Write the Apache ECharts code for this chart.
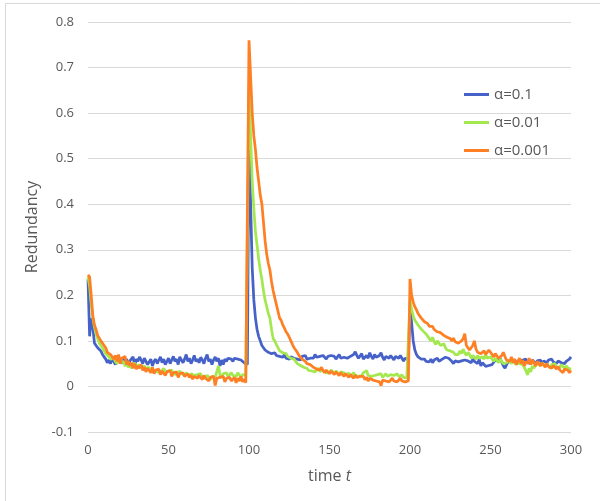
<!DOCTYPE html>
<html>
<head>
    <meta charset="utf-8">
    <title>Redundancy</title>
    <script src="https://cdn.jsdelivr.net/npm/echarts@6/dist/echarts.min.js"></script>
    <style>
        html, body { margin: 0; padding: 0; background: #fff; }
        #chart1 { width: 600px; height: 501px; }
    </style>
</head>
<body>
<div id="chart1"></div>
<script type="text/javascript">
    // 数据: 每个数组是 t = 0 .. 300 的取值
    var seriesNames = ['α=0.1', 'α=0.01', 'α=0.001'];
    var xTicks = [0, 50, 100, 150, 200, 250, 300];

    var alpha1 = [
        0.235, 0.11, 0.15, 0.13, 0.095, 0.09, 0.085, 0.082, 0.078, 0.07,
        0.065, 0.06, 0.052, 0.058, 0.05, 0.062, 0.055, 0.048, 0.06, 0.065,
        0.058, 0.05, 0.062, 0.055, 0.06, 0.048, 0.056, 0.052, 0.065, 0.045,
        0.06, 0.055, 0.065, 0.058, 0.05, 0.062, 0.055, 0.048, 0.052, 0.06,
        0.045, 0.055, 0.06, 0.05, 0.058, 0.065, 0.052, 0.06, 0.048, 0.055,
        0.062, 0.05, 0.058, 0.066, 0.055, 0.06, 0.048, 0.065, 0.058, 0.052,
        0.06, 0.07, 0.055, 0.062, 0.05, 0.058, 0.068, 0.055, 0.06, 0.052,
        0.064, 0.058, 0.05, 0.062, 0.07, 0.055, 0.06, 0.048, 0.058, 0.065,
        0.055, 0.062, 0.045, 0.058, 0.048, 0.06, 0.055, 0.062, 0.058, 0.06,
        0.055, 0.062, 0.058, 0.06, 0.056, 0.058, 0.055, 0.052, 0.05, 0.048,
        0.58, 0.4, 0.26, 0.19, 0.15, 0.125, 0.11, 0.1, 0.09, 0.085,
        0.08, 0.078, 0.075, 0.078, 0.072, 0.07, 0.074, 0.068, 0.07, 0.066,
        0.068, 0.064, 0.07, 0.062, 0.066, 0.06, 0.065, 0.068, 0.062, 0.066,
        0.06, 0.064, 0.058, 0.066, 0.062, 0.068, 0.06, 0.064, 0.062, 0.066,
        0.062, 0.07, 0.064, 0.06, 0.066, 0.062, 0.068, 0.064, 0.06, 0.066,
        0.062, 0.068, 0.064, 0.066, 0.06, 0.064, 0.07, 0.062, 0.066, 0.064,
        0.068, 0.062, 0.06, 0.066, 0.064, 0.07, 0.076, 0.068, 0.062, 0.066,
        0.072, 0.06, 0.064, 0.068, 0.062, 0.074, 0.066, 0.06, 0.07, 0.064,
        0.062, 0.068, 0.074, 0.064, 0.058, 0.066, 0.07, 0.062, 0.068, 0.064,
        0.058, 0.066, 0.07, 0.062, 0.068, 0.064, 0.056, 0.062, 0.066, 0.06,
        0.17, 0.14, 0.1, 0.08, 0.07, 0.065, 0.062, 0.06, 0.058, 0.06,
        0.055, 0.058, 0.054, 0.06, 0.052, 0.058, 0.056, 0.062, 0.055, 0.058,
        0.06, 0.056, 0.064, 0.068, 0.062, 0.066, 0.055, 0.05, 0.056, 0.058,
        0.054, 0.058, 0.056, 0.06, 0.058, 0.062, 0.056, 0.058, 0.052, 0.06,
        0.055, 0.058, 0.05, 0.06, 0.045, 0.052, 0.048, 0.044, 0.04, 0.046,
        0.05, 0.048, 0.052, 0.058, 0.06, 0.055, 0.062, 0.058, 0.045, 0.04,
        0.048, 0.054, 0.05, 0.056, 0.052, 0.058, 0.055, 0.05, 0.056, 0.052,
        0.058, 0.054, 0.06, 0.052, 0.056, 0.05, 0.058, 0.055, 0.05, 0.056,
        0.054, 0.058, 0.05, 0.056, 0.06, 0.052, 0.058, 0.055, 0.06, 0.054,
        0.058, 0.05, 0.056, 0.06, 0.052, 0.054, 0.05, 0.055, 0.058, 0.06,
        0.065
    ];

    var alpha01 = [
        0.24, 0.22, 0.18, 0.15, 0.13, 0.115, 0.105, 0.095, 0.09, 0.085,
        0.078, 0.072, 0.07, 0.065, 0.06, 0.058, 0.062, 0.055, 0.05, 0.058,
        0.052, 0.048, 0.055, 0.045, 0.05, 0.042, 0.048, 0.04, 0.046, 0.052,
        0.044, 0.04, 0.048, 0.042, 0.038, 0.045, 0.04, 0.036, 0.042, 0.035,
        0.04, 0.034, 0.038, 0.032, 0.036, 0.03, 0.035, 0.04, 0.032, 0.028,
        0.034, 0.03, 0.036, 0.028, 0.032, 0.026, 0.03, 0.034, 0.028, 0.032,
        0.025, 0.03, 0.027, 0.022, 0.028, 0.03, 0.024, 0.02, 0.026, 0.022,
        0.028, 0.02, 0.024, 0.018, 0.025, 0.028, 0.015, 0.022, 0.026, 0.02,
        0.022, 0.045, 0.025, 0.02, 0.028, 0.024, 0.03, 0.022, 0.026, 0.03,
        0.024, 0.028, 0.022, 0.03, 0.025, 0.02, 0.026, 0.03, 0.024, 0.02,
        0.66, 0.55, 0.45, 0.39, 0.34, 0.31, 0.28, 0.255, 0.235, 0.21,
        0.19, 0.175, 0.16, 0.15, 0.125, 0.105, 0.1, 0.092, 0.085, 0.078,
        0.08, 0.074, 0.07, 0.072, 0.066, 0.068, 0.062, 0.058, 0.06, 0.055,
        0.05, 0.052, 0.046, 0.048, 0.042, 0.046, 0.04, 0.035, 0.038, 0.034,
        0.038, 0.032, 0.036, 0.04, 0.033, 0.03, 0.035, 0.038, 0.03, 0.034,
        0.03, 0.036, 0.032, 0.028, 0.034, 0.03, 0.026, 0.032, 0.028, 0.03,
        0.028, 0.025, 0.03, 0.022, 0.026, 0.03, 0.024, 0.028, 0.022, 0.026,
        0.024, 0.03, 0.026, 0.035, 0.024, 0.028, 0.022, 0.026, 0.024, 0.02,
        0.026, 0.022, 0.028, 0.02, 0.024, 0.028, 0.022, 0.018, 0.026, 0.022,
        0.024, 0.02, 0.028, 0.022, 0.018, 0.025, 0.02, 0.024, 0.018, 0.015,
        0.19, 0.17, 0.155, 0.145, 0.14, 0.135, 0.13, 0.128, 0.122, 0.118,
        0.115, 0.11, 0.105, 0.1, 0.108, 0.098, 0.092, 0.1, 0.095, 0.09,
        0.088, 0.094, 0.085, 0.08, 0.084, 0.078, 0.082, 0.075, 0.07, 0.074,
        0.07, 0.078, 0.072, 0.082, 0.074, 0.068, 0.075, 0.07, 0.062, 0.068,
        0.065, 0.06, 0.068, 0.062, 0.058, 0.065, 0.06, 0.07, 0.062, 0.058,
        0.065, 0.06, 0.055, 0.062, 0.058, 0.052, 0.06, 0.055, 0.05, 0.048,
        0.052, 0.058, 0.055, 0.05, 0.056, 0.052, 0.048, 0.055, 0.05, 0.054,
        0.048, 0.052, 0.035, 0.025, 0.04, 0.032, 0.045, 0.04, 0.048, 0.044,
        0.05, 0.045, 0.052, 0.048, 0.044, 0.05, 0.046, 0.04, 0.048, 0.044,
        0.05, 0.042, 0.046, 0.04, 0.048, 0.044, 0.04, 0.045, 0.042, 0.038,
        0.04
    ];

    var alpha001 = [
        0.245, 0.24, 0.2, 0.155, 0.135, 0.125, 0.112, 0.108, 0.1, 0.098,
        0.09, 0.085, 0.075, 0.078, 0.07, 0.066, 0.06, 0.068, 0.055, 0.07,
        0.05, 0.062, 0.058, 0.066, 0.048, 0.056, 0.045, 0.052, 0.04, 0.05,
        0.038, 0.045, 0.04, 0.048, 0.035, 0.042, 0.032, 0.04, 0.036, 0.03,
        0.042, 0.028, 0.036, 0.032, 0.038, 0.026, 0.034, 0.03, 0.024, 0.032,
        0.028, 0.035, 0.022, 0.03, 0.026, 0.032, 0.02, 0.028, 0.024, 0.03,
        0.022, 0.018, 0.028, 0.02, 0.025, 0.016, 0.022, 0.026, 0.018, 0.024,
        0.02, 0.015, 0.024, 0.018, 0.022, 0.012, 0.02, 0.016, 0.022, 0.002,
        0.018, 0.014, 0.02, 0.016, 0.022, 0.01, 0.018, 0.014, 0.02, 0.012,
        0.016, 0.02, 0.008, 0.018, 0.012, 0.022, 0.01, 0.016, 0.008, 0.012,
        0.76, 0.68, 0.6, 0.55, 0.52, 0.48, 0.45, 0.42, 0.4, 0.36,
        0.32, 0.29, 0.27, 0.255, 0.23, 0.21, 0.195, 0.18, 0.165, 0.15,
        0.145, 0.135, 0.128, 0.12, 0.115, 0.108, 0.1, 0.092, 0.085, 0.08,
        0.075, 0.068, 0.065, 0.06, 0.062, 0.055, 0.05, 0.054, 0.048, 0.045,
        0.042, 0.046, 0.038, 0.04, 0.036, 0.042, 0.035, 0.03, 0.036, 0.032,
        0.028, 0.034, 0.03, 0.026, 0.032, 0.028, 0.024, 0.03, 0.026, 0.022,
        0.028, 0.024, 0.02, 0.026, 0.022, 0.018, 0.025, 0.02, 0.016, 0.022,
        0.018, 0.022, 0.015, 0.02, 0.012, 0.018, 0.022, 0.014, 0.018, 0.012,
        0.016, 0.01, 0.002, 0.014, 0.018, 0.012, 0.016, 0.01, 0.014, 0.018,
        0.012, 0.016, 0.01, 0.014, 0.018, 0.012, 0.015, 0.01, 0.014, 0.012,
        0.236, 0.2, 0.185, 0.175, 0.168, 0.16, 0.155, 0.15, 0.146, 0.142,
        0.14, 0.138, 0.132, 0.128, 0.132, 0.125, 0.122, 0.12, 0.122, 0.118,
        0.116, 0.112, 0.115, 0.108, 0.11, 0.105, 0.1, 0.106, 0.098, 0.1,
        0.095, 0.092, 0.1, 0.105, 0.116, 0.09, 0.085, 0.08, 0.083, 0.09,
        0.1, 0.082, 0.075, 0.078, 0.072, 0.075, 0.078, 0.07, 0.075, 0.08,
        0.078, 0.07, 0.065, 0.072, 0.068, 0.062, 0.058, 0.068, 0.075, 0.065,
        0.058, 0.062, 0.055, 0.065, 0.052, 0.06, 0.048, 0.055, 0.062, 0.05,
        0.058, 0.045, 0.055, 0.05, 0.062, 0.048, 0.058, 0.052, 0.045, 0.055,
        0.05, 0.045, 0.052, 0.048, 0.042, 0.05, 0.044, 0.048, 0.04, 0.046,
        0.042, 0.038, 0.044, 0.036, 0.04, 0.03, 0.038, 0.034, 0.036, 0.03,
        0.035
    ];

    var colors = ['#4662c8', '#a4e84f', '#ff7f24'];

    // 下标就是时间 t
    function toPairs(arr) {
        return arr.map(function (v, i) { return [i, v]; });
    }

    var myChart1 = echarts.init(document.getElementById('chart1'));

    var textColor = '#595959';
    var gridColor = '#d9d9d9';

    myChart1.setOption({
        animation: false,
        color: colors,
        textStyle: { fontFamily: '"Open Sans", "Noto Sans", sans-serif' },
        grid: { left: 88, right: 29, top: 22, bottom: 69 },
        legend: {
            orient: 'vertical',
            left: 459,
            top: 81,
            icon: 'rect',
            itemWidth: 25,
            itemHeight: 3,
            itemGap: 11,
            textStyle: { fontSize: 15, color: textColor, lineHeight: 17 },
            data: seriesNames
        },
        xAxis: {
            type: 'value',
            min: xTicks[0],
            max: xTicks[xTicks.length - 1],
            interval: 50,
            axisLine: { show: false },
            axisTick: { show: false },
            splitLine: { show: false },
            axisLabel: { color: textColor, fontSize: 13, margin: 12 },
            name: '{a|time }{b|t}',
            nameLocation: 'middle',
            nameGap: 36,
            nameTextStyle: {
                rich: {
                    a: { fontSize: 16, color: textColor },
                    b: { fontSize: 16, color: textColor, fontStyle: 'italic' }
                }
            }
        },
        yAxis: {
            type: 'value',
            min: -0.1,
            max: 0.8,
            interval: 0.1,
            axisLine: { show: false },
            axisTick: { show: false },
            splitLine: { lineStyle: { color: gridColor, width: 1 } },
            axisLabel: { color: textColor, fontSize: 13, margin: 14 },
            name: 'Redundancy',
            nameLocation: 'middle',
            nameGap: 40,
            nameTextStyle: { fontSize: 16, color: textColor }
        },
        graphic: [
            { type: 'line', shape: { x1: 5, y1: 3.5, x2: 600, y2: 3.5 }, style: { stroke: gridColor, lineWidth: 1 } },
            { type: 'line', shape: { x1: 5.5, y1: 3, x2: 5.5, y2: 501 }, style: { stroke: gridColor, lineWidth: 1 } }
        ],
        series: [
            { name: seriesNames[0], type: 'line', showSymbol: false, lineStyle: { width: 2.75 }, data: toPairs(alpha1) },
            { name: seriesNames[1], type: 'line', showSymbol: false, lineStyle: { width: 2.75 }, data: toPairs(alpha01) },
            { name: seriesNames[2], type: 'line', showSymbol: false, lineStyle: { width: 2.75 }, data: toPairs(alpha001) }
        ]
    });
</script>
</body>
</html>
